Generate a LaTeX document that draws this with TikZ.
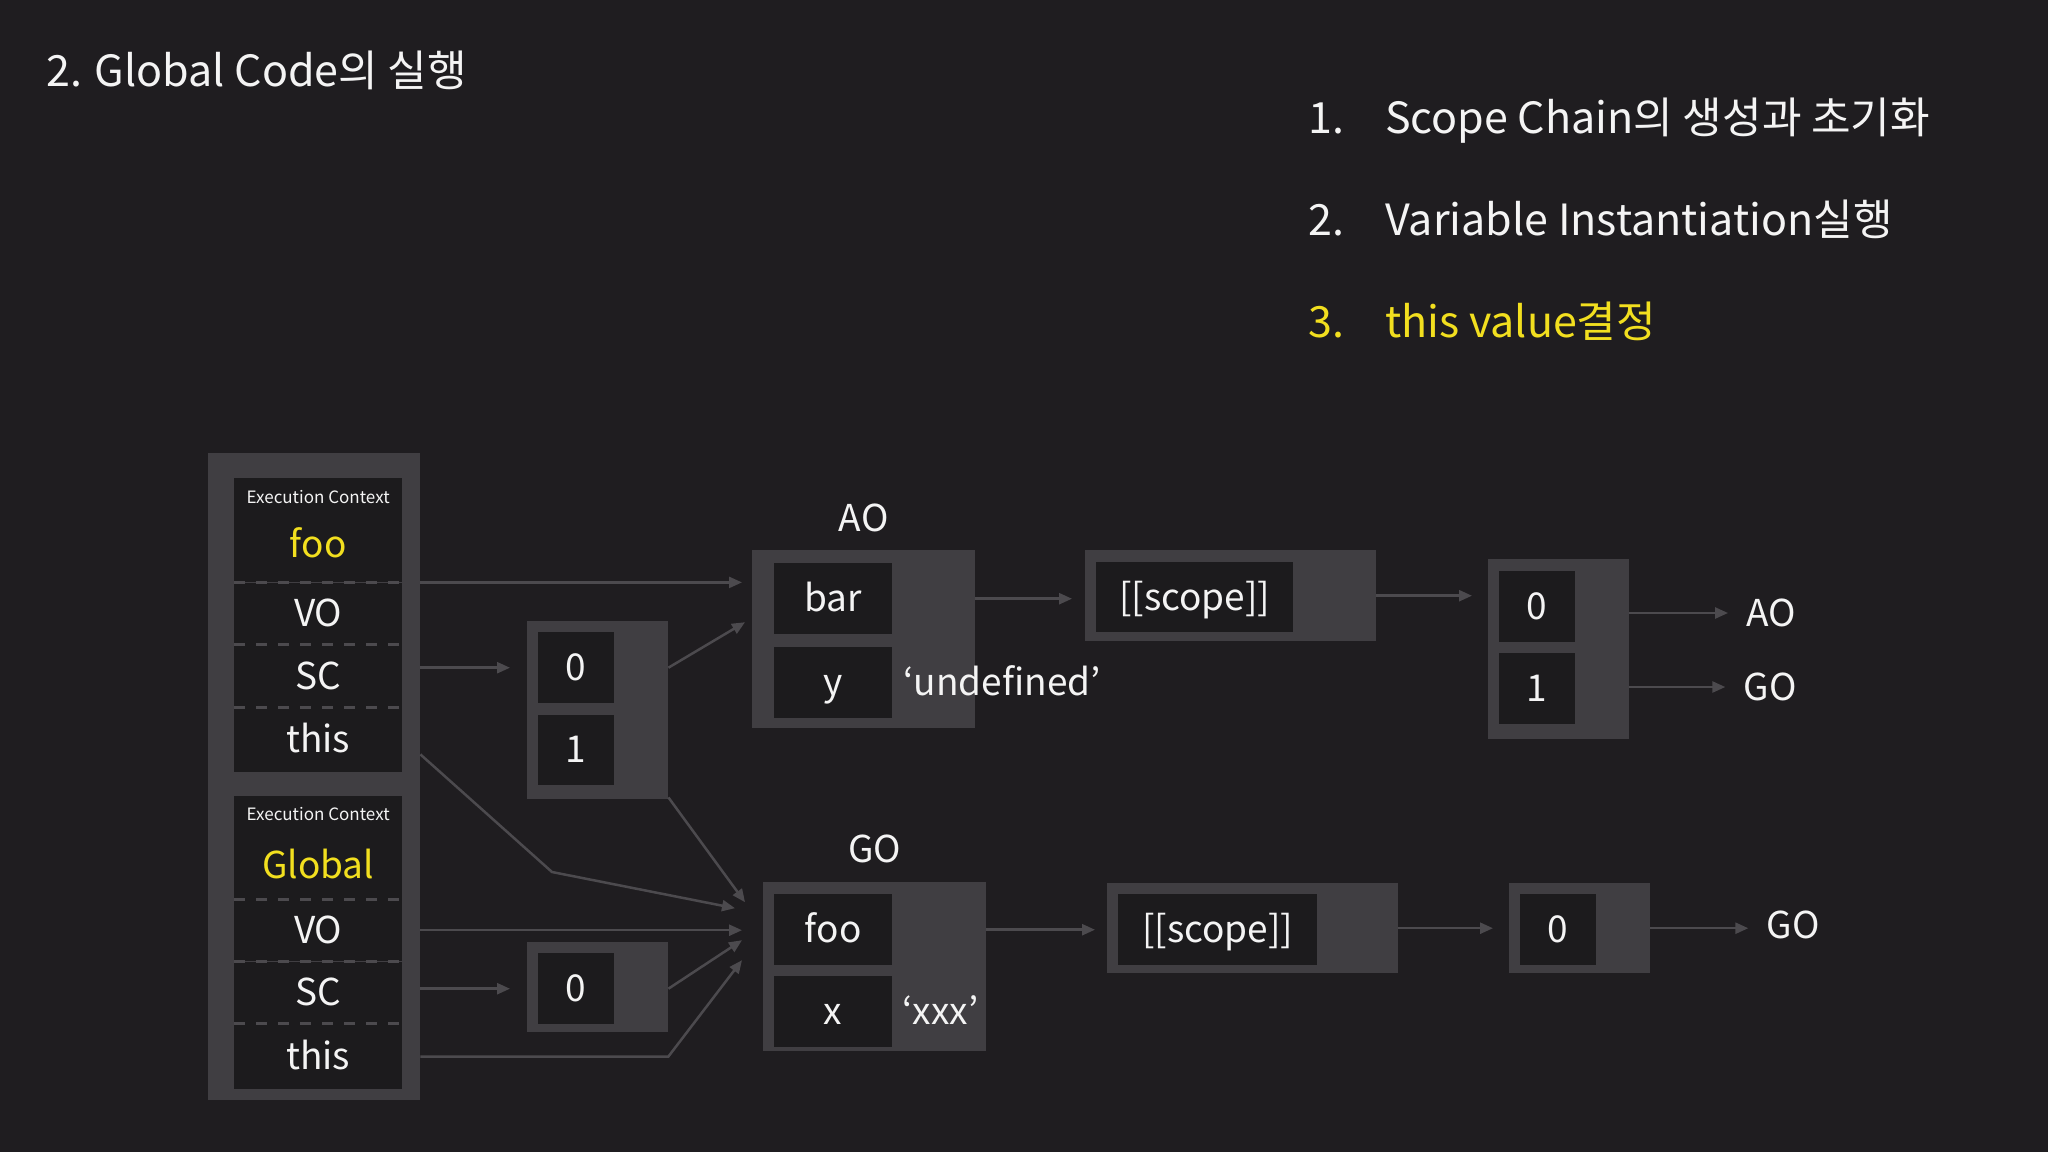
\documentclass[tikz,border=0pt]{standalone}
\usepackage{fontspec}
\setmainfont{Noto Sans CJK KR}
\usetikzlibrary{calc,positioning,arrows.meta}

\definecolor{slidebg}{HTML}{1F1D20}
\definecolor{boxgray}{HTML}{403E42}
\definecolor{cellbg}{HTML}{1C1B1D}
\definecolor{wiregray}{HTML}{4C4A4E}
\definecolor{hlyellow}{HTML}{F2DF1F}
\definecolor{textwhite}{HTML}{F4F4F4}

\begin{document}
\begin{tikzpicture}[x=1pt,y=-1pt,
	box/.style={fill=boxgray,inner sep=0pt,anchor=north west},
	cell/.style={fill=cellbg,inner sep=0pt,text=textwhite,text height=26pt,text depth=0pt,font=\fontsize{37}{40}\selectfont},
	row/.style={cell,minimum width=168pt,minimum height=62pt},
	numcell/.style={cell,minimum width=76pt,minimum height=71pt},
	keycell/.style={cell,minimum width=118pt,minimum height=71pt},
	lbl/.style={text=textwhite,inner sep=0pt,font=\fontsize{37}{40}\selectfont},
	eclbl/.style={text=textwhite,inner sep=0pt,font=\fontsize{17}{20}\selectfont},
	heading/.style={text=textwhite,inner sep=0pt,anchor=base west,font=\fontsize{43}{50}\selectfont},
	ptr/.style={draw=wiregray,line width=2.5pt,-{Triangle[length=13pt,width=11pt]}},
	sep/.style={draw=wiregray,line width=3pt,dash pattern=on 11pt off 11pt}]

	\fill[slidebg] (0,0) rectangle (2048,1152);
	\useasboundingbox (0,0) rectangle (2048,1152);

	% headings
	\node[heading] (title) at (46,86) {2. Global Code의 실행};
	\node[heading] (n1) at (1308,133) {1.};
	\node[heading] (s1) at (1385,133) {Scope Chain의 생성과 초기화};
	\node[heading] (n2) at (1308,235) {2.};
	\node[heading] (s2) at (1385,235) {Variable Instantiation실행};
	\node[heading,text=hlyellow] (n3) at (1308,337) {3.};
	\node[heading,text=hlyellow] (s3) at (1385,337) {this value결정};

	% execution context stack
	\node[box,minimum width=212pt,minimum height=647pt] (ec) at (208,453) {};
	\node[row,minimum height=104pt,below right=25pt and 26pt of ec.north west] (fooHead) {};
	\node[row,below=0pt of fooHead] (fooVO) {VO};
	\node[row,below=0pt of fooVO] (fooSC) {SC};
	\node[row,minimum height=65pt,below=0pt of fooSC] (fooThis) {this};
	\node[eclbl] (fooEC) at ($(fooHead.north)+(0,19)$) {Execution Context};
	\node[lbl,text=hlyellow] (fooName) at ($(fooHead.north)+(0,65)$) {foo};

	\node[row,minimum height=103pt,below=23pt of fooThis] (glHead) {};
	\node[row,below=0pt of glHead] (glVO) {VO};
	\node[row,below=0pt of glVO] (glSC) {SC};
	\node[row,minimum height=65pt,below=0pt of glSC] (glThis) {this};
	\node[eclbl] (glEC) at ($(glHead.north)+(0,18)$) {Execution Context};
	\node[lbl,text=hlyellow] (glName) at ($(glHead.north)+(0,68)$) {Global};

	\draw[sep] (fooVO.north west) -- (fooVO.north east);
	\draw[sep] (fooSC.north west) -- (fooSC.north east);
	\draw[sep] (fooThis.north west) -- (fooThis.north east);
	\draw[sep] (glVO.north west) -- (glVO.north east);
	\draw[sep] (glSC.north west) -- (glSC.north east);
	\draw[sep] (glThis.north west) -- (glThis.north east);

	% scope chains
	\node[box,minimum width=141pt,minimum height=178pt] (sc1) at (527,621) {};
	\node[numcell,below right=11pt and 11pt of sc1.north west] (sc1a) {0};
	\node[numcell,minimum height=70pt,below=11pt of sc1a] (sc1b) {1};
	\node[box,minimum width=141pt,minimum height=90pt] (sc2) at (527,942) {};
	\node[numcell,below right=11pt and 11pt of sc2.north west] (sc2a) {0};

	% variable objects
	\node[box,minimum width=223pt,minimum height=178pt] (ao) at (752,550) {};
	\node[lbl,above=18pt of ao] (aoLbl) {AO};
	\node[keycell,below right=13pt and 22pt of ao.north west] (aoBar) {bar};
	\node[keycell,below=12pt of aoBar] (aoY) {y};
	\node[lbl,anchor=base west] (aoYval) at ([xshift=11pt]aoY.base east) {‘undefined’};

	\node[box,minimum width=223pt,minimum height=169pt] (go) at (763,882) {};
	\node[lbl,above=19pt of go] (goLbl) {GO};
	\node[keycell,below right=12pt and 11pt of go.north west] (goFoo) {foo};
	\node[keycell,below=10pt of goFoo] (goX) {x};
	\node[lbl,anchor=base west] (goXval) at ([xshift=10pt]goX.base east) {‘xxx’};

	% [[scope]] of the functions
	\node[box,minimum width=291pt,minimum height=91pt] (sp1) at (1085,550) {};
	\node[cell,minimum width=197pt,minimum height=70pt,below right=12pt and 11pt of sp1.north west] (sp1a) {[[scope]]};
	\node[box,minimum width=291pt,minimum height=90pt] (sp2) at (1107,883) {};
	\node[cell,minimum width=199pt,minimum height=71pt,below right=11pt and 11pt of sp2.north west] (sp2a) {[[scope]]};

	\node[box,minimum width=141pt,minimum height=180pt] (rb1) at (1488,559) {};
	\node[numcell,below right=12pt and 11pt of rb1.north west] (rb1a) {0};
	\node[numcell,below=10pt of rb1a] (rb1b) {1};
	\node[box,minimum width=141pt,minimum height=90pt] (rb2) at (1509,883) {};
	\node[numcell,below right=11pt and 11pt of rb2.north west] (rb2a) {0};

	\node[lbl] (rAO) at (1771,613) {AO};
	\node[lbl] (rGO) at (1770,687) {GO};
	\node[lbl] (rGO2) at (1793,925) {GO};

	% pointers
	\coordinate (thisBend) at (552,872);
	\draw[ptr,shorten >=10pt] (ec.east |- fooVO.north) -- (ao.west |- fooVO.north);
	\draw[ptr,shorten >=17pt] (ec.east |- sc1a) -- (sc1.west |- sc1a);
	\draw[ptr] (sc1.east |- sc1a) -- ($(ao.west)+(-7,-17)$);
	\draw[ptr] ($(sc1.south east)+(0,-2)$) -- ($(go.west)+(-18,-64.5)$);
	\draw[ptr] ($(ec.east |- fooThis)+(0,14.5)$) -- (thisBend) -- ($(go.west)+(-28,-58.5)$);
	\draw[ptr,shorten >=21pt] (ec.east |- glVO) -- (go.west |- glVO);
	\draw[ptr,shorten >=17pt] (ec.east |- sc2a) -- (sc2.west |- sc2a);
	\draw[ptr] (sc2.east |- sc2a) -- ($(go.west)+(-21,-26.5)$);
	\draw[ptr] (ec.east |- glThis) -- (sc2.east |- glThis) -- ($(go.west)+(-21,-6.5)$);
	\draw[ptr,shorten >=13pt] (ao.east |- aoBar) -- (sp1.west |- aoBar);
	\draw[ptr,shorten >=12pt] (go.east |- goFoo) -- (sp2.west |- goFoo);
	\draw[ptr,shorten >=16pt] (sp1.east) -- (rb1.west |- sp1.east);
	\draw[ptr,shorten >=16pt] (sp2.east) -- (rb2.west |- sp2.east);
	\draw[ptr,shorten >=18pt] (rb1.east |- rAO) -- (rAO.west);
	\draw[ptr,shorten >=18pt] (rb1.east |- rGO) -- (rGO.west);
	\draw[ptr,shorten >=18pt] (rb2.east) -- (rb2.east -| rGO2.west);
\end{tikzpicture}
\end{document}
